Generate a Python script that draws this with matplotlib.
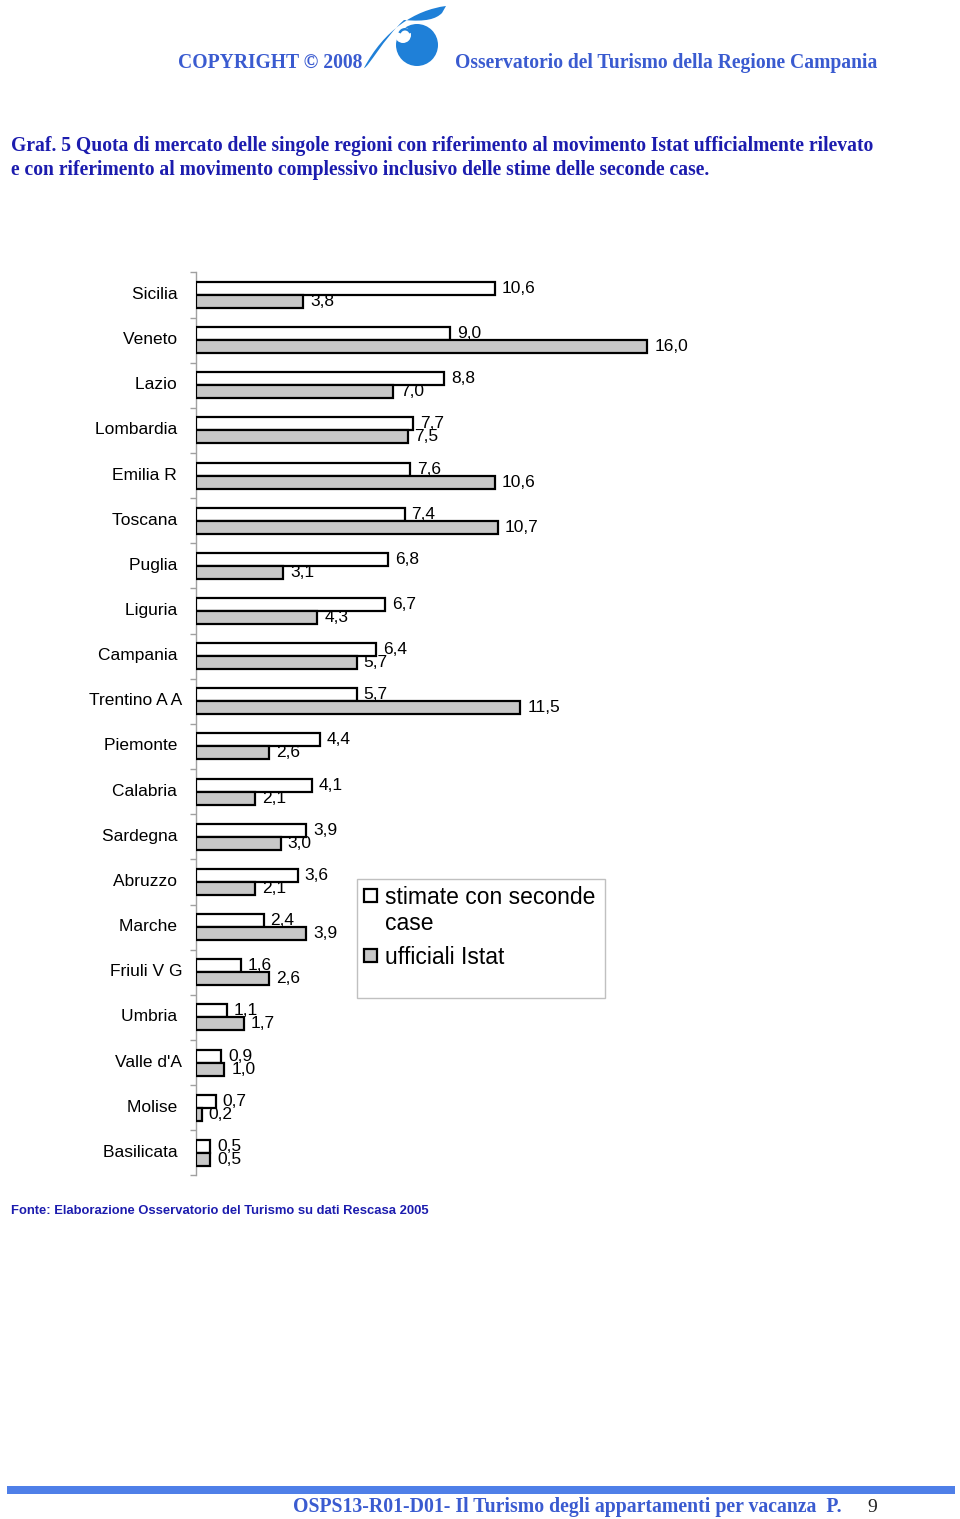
import matplotlib
matplotlib.use("Agg")
import matplotlib.pyplot as plt
from matplotlib.patches import Rectangle, Circle, PathPatch, Wedge
from matplotlib.path import Path
import matplotlib.transforms as mtransforms
import numpy as np

# ---------------- data ----------------
regions = ["Sicilia ", "Veneto ", "Lazio ", "Lombardia ", "Emilia R ", "Toscana ",
           "Puglia ", "Liguria ", "Campania ", "Trentino A A", "Piemonte ", "Calabria ",
           "Sardegna ", "Abruzzo ", "Marche ", "Friuli V G", "Umbria ", "Valle d'A",
           "Molise ", "Basilicata "]
stimate = [10.6, 9.0, 8.8, 7.7, 7.6, 7.4, 6.8, 6.7, 6.4, 5.7, 4.4, 4.1, 3.9, 3.6,
           2.4, 1.6, 1.1, 0.9, 0.7, 0.5]
ufficiali = [3.8, 16.0, 7.0, 7.5, 10.6, 10.7, 3.1, 4.3, 5.7, 11.5, 2.6, 2.1, 3.0, 2.1,
             3.9, 2.6, 1.7, 1.0, 0.2, 0.5]
series_names = ["stimate con seconde\ncase", "ufficiali Istat"]
series_colors = ["#ffffff", "#c8c8c8"]

W, H = 960, 1519
fig = plt.figure(figsize=(W / 100, H / 100), dpi=100)
fig.patch.set_facecolor("white")

# overlay axes in pixel coordinates for page decorations
ov = fig.add_axes([0, 0, 1, 1])
ov.set_xlim(0, W)
ov.set_ylim(H, 0)
ov.axis("off")

hdr_blue = "#3a5bd0"
title_blue = "#1c1cae"
logo_blue = "#1f80d8"

ov.text(362, 63, "COPYRIGHT © 2008", ha="right", va="center", fontsize=14.1,
        fontweight="bold", family="Liberation Serif", color=hdr_blue)
ov.text(877, 63, "Osservatorio del Turismo della Regione Campania", ha="right", va="center",
        fontsize=14.15, fontweight="bold", family="Liberation Serif", color=hdr_blue)

# logo (swirl)
verts = [(364, 68), (384, 30), (415, 10), (446, 6),
         (442, 13), (436, 19), (426, 22),
         (404, 20), (384, 38), (368, 68), (364, 68)]
codes = [Path.MOVETO, Path.CURVE4, Path.CURVE4, Path.CURVE4,
         Path.LINETO, Path.CURVE4, Path.CURVE4,
         Path.CURVE4, Path.CURVE4, Path.CURVE4, Path.CLOSEPOLY]
ov.add_patch(PathPatch(Path(verts, codes), facecolor=logo_blue, edgecolor="none"))
ov.add_patch(Circle((417, 45), 21, facecolor=logo_blue, edgecolor="none"))
ov.add_patch(Circle((403, 35), 8, facecolor="white", edgecolor="none"))
ov.add_patch(Wedge((405, 35), 7, 200, 340, width=2.5, facecolor=logo_blue, edgecolor="none"))

ov.text(11, 146, "Graf. 5 Quota di mercato delle singole regioni con riferimento al movimento Istat ufficialmente rilevato",
        ha="left", va="center", fontsize=14.1, fontweight="bold", family="Liberation Serif",
        color=title_blue)
ov.text(11, 170, "e con riferimento al movimento complessivo inclusivo delle stime delle seconde case.",
        ha="left", va="center", fontsize=14.1, fontweight="bold", family="Liberation Serif",
        color=title_blue)

ov.text(11, 1211, "Fonte: Elaborazione Osservatorio del Turismo su dati Rescasa 2005",
        ha="left", va="center", fontsize=9.35, fontweight="bold",
        family="Liberation Sans", color=title_blue)

ov.add_patch(Rectangle((7, 1486), 948, 8, facecolor="#4f7fe8", edgecolor="none"))
ov.text(842, 1507, "OSPS13-R01-D01- Il Turismo degli appartamenti per vacanza  P.",
        ha="right", va="center", fontsize=14.2, fontweight="bold", family="Liberation Serif",
        color=hdr_blue)
ov.text(872, 1507, "9", ha="center", va="center", fontsize=14, family="Liberation Serif",
        color="#222222")

# ---------------- chart ----------------
ax_left, ax_right = 196, 760
ax_top, ax_bot = 272.4, 1175.4
ax = fig.add_axes([ax_left / W, (H - ax_bot) / H, (ax_right - ax_left) / W, (ax_bot - ax_top) / H])
ax.patch.set_alpha(0)

n = len(regions)
y = np.arange(n)
bh = 0.288
ax.barh(y - bh / 2, stimate, height=bh, color=series_colors[0], edgecolor="black",
        linewidth=1.6, zorder=3)
ax.barh(y + bh / 2, ufficiali, height=bh, color=series_colors[1], edgecolor="black",
        linewidth=1.6, zorder=3)

fmt = lambda v: f"{v:.1f}".replace(".", ",")
for yi, v in zip(y, stimate):
    ax.annotate(fmt(v), (v, yi - bh / 2), xytext=(5, 0), textcoords="offset points",
                ha="left", va="center", fontsize=12.5, family="Liberation Sans", zorder=4)
for yi, v in zip(y, ufficiali):
    ax.annotate(fmt(v), (v, yi + bh / 2), xytext=(5, 0), textcoords="offset points",
                ha="left", va="center", fontsize=12.5, family="Liberation Sans", zorder=4)

ax.set_xlim(0, 20)
ax.set_ylim(n - 0.5, -0.5)
ax.set_yticks(y)
ax.set_yticklabels(regions, fontsize=12.5, family="Liberation Sans")
ax.tick_params(axis="y", which="major", length=0, pad=10)
shift = mtransforms.ScaledTranslation(0, 2 / 100, fig.dpi_scale_trans)
for lbl in ax.get_yticklabels():
    lbl.set_transform(lbl.get_transform() + shift)
ax.set_yticks(np.arange(-0.5, n, 1.0), minor=True)
ax.tick_params(axis="y", which="minor", length=4, color="#a0a0a0", width=1)
ax.set_xticks([])
for s in ["top", "right", "bottom"]:
    ax.spines[s].set_visible(False)
ax.spines["left"].set_color("#a0a0a0")
ax.spines["left"].set_linewidth(1)

# legend (drawn in pixel overlay)
ov.add_patch(Rectangle((357, 879), 248, 119, facecolor="white", edgecolor="#c0c0c0",
                       linewidth=1, zorder=5))
leg_rows = [896, 956]
for name, col, yy in zip(series_names, series_colors, leg_rows):
    ov.add_patch(Rectangle((364, yy - 7), 13, 13, facecolor=col, edgecolor="black",
                           linewidth=1.6, zorder=6))
    ov.text(385, yy - 10, name, ha="left", va="top", fontsize=16.5,
            family="Liberation Sans", linespacing=1.17, zorder=6)

fig.savefig("out.png", dpi=100)
